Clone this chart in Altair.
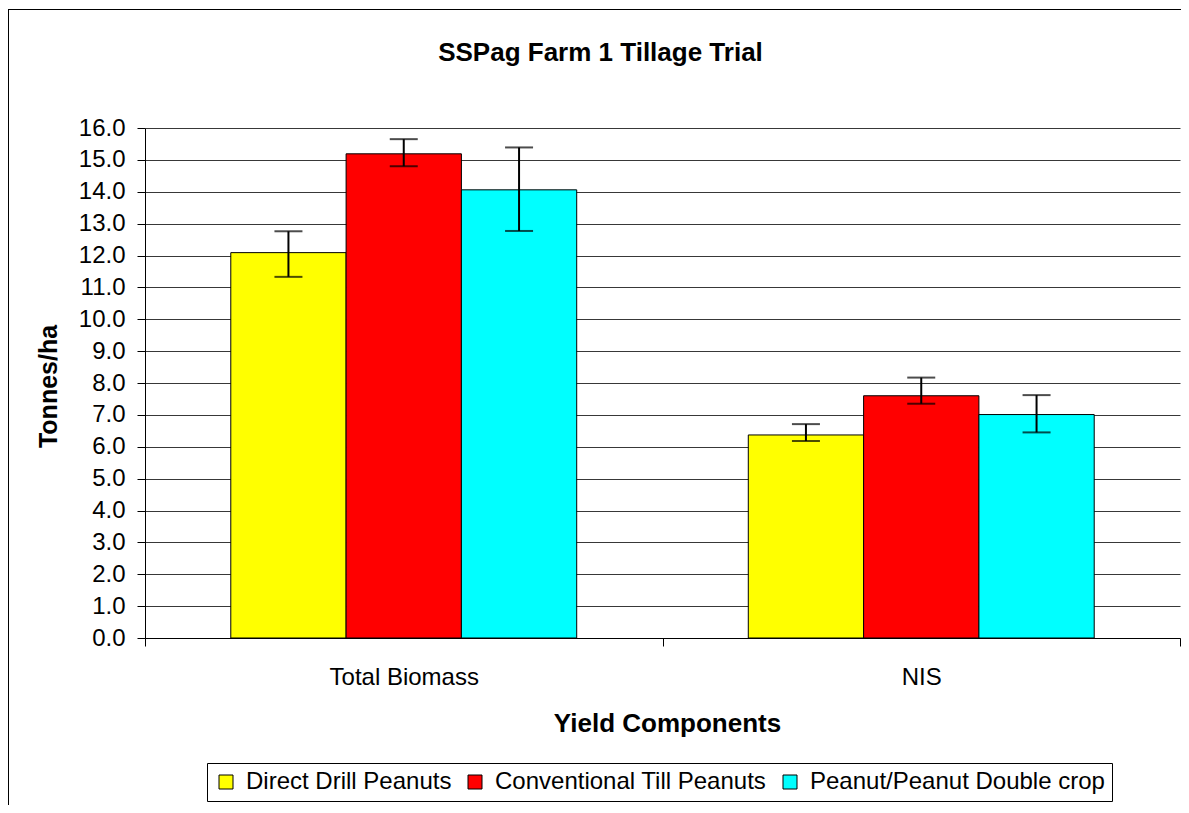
import altair as alt
import pandas as pd

components = ["Total Biomass", "NIS"]
series = ["Direct Drill Peanuts", "Conventional Till Peanuts", "Peanut/Peanut Double crop"]
colors = ["#FFFF00", "#FF0000", "#00FFFF"]

means_biomass = [12.09, 15.19, 14.06]
means_nis = [6.37, 7.60, 7.01]
low_biomass = [11.33, 14.80, 12.77]
low_nis = [6.18, 7.35, 6.45]
high_biomass = [12.76, 15.65, 15.39]
high_nis = [6.71, 8.17, 7.62]
y_ticks = [0, 1, 2, 3, 4, 5, 6, 7, 8, 9, 10, 11, 12, 13, 14, 15, 16]

rows = []
for comp, means, lows, highs in [
    ("Total Biomass", means_biomass, low_biomass, high_biomass),
    ("NIS", means_nis, low_nis, high_nis),
]:
    for s, m, lo, hi in zip(series, means, lows, highs):
        rows.append({"component": comp, "series": s, "value": m, "low": lo, "high": hi})
df = pd.DataFrame(rows)

FONT = "Liberation Sans"

x_axis = alt.Axis(
    labelAngle=0,
    labelFont=FONT,
    labelFontSize=24,
    labelColor="black",
    labelBaseline="alphabetic",
    labelPadding=38,
    tickBand="extent",
    tickSize=8,
    tickColor="black",
    domainColor="black",
    grid=False,
    title="Yield Components",
    titleFont=FONT,
    titleFontSize=26,
    titleFontWeight="bold",
    titleColor="black",
    titleBaseline="alphabetic",
    titleX=522,
    titleY=93,
)
y_axis = alt.Axis(
    values=y_ticks,
    format=".1f",
    labelOverlap=False,
    labelFont=FONT,
    labelFontSize=24,
    labelColor="black",
    labelPadding=12,
    tickSize=8,
    tickColor="black",
    domainColor="black",
    grid=True,
    gridColor="#383838",
    title="Tonnes/ha",
    titleFont=FONT,
    titleFontSize=25,
    titleFontWeight="bold",
    titleColor="black",
    titleAngle=270,
    titleBaseline="alphabetic",
    titleAlign="center",
    titleX=-89,
    titleY=258,
)
x_scale = alt.Scale(paddingInner=0, paddingOuter=0)
xoff_scale = alt.Scale(paddingInner=0, paddingOuter=0.744)
y_scale = alt.Scale(domain=[0, 16])


def xenc():
    return alt.X("component:N", sort=components, scale=x_scale, axis=x_axis, title="Yield Components")


def xoffenc():
    return alt.XOffset("series:N", sort=series, scale=xoff_scale)


bars = alt.Chart(df).mark_bar(stroke="black", strokeWidth=1).encode(
    x=xenc(),
    xOffset=xoffenc(),
    y=alt.Y("value:Q", scale=y_scale, axis=y_axis, title="Tonnes/ha"),
    color=alt.Color(
        "series:N",
        sort=series,
        scale=alt.Scale(domain=series, range=colors),
        legend=alt.Legend(
            title=None,
            orient="none",
            legendX=62,
            legendY=635,
            direction="horizontal",
            symbolType="square",
            symbolSize=196,
            symbolStrokeColor="black",
            symbolStrokeWidth=1,
            symbolOpacity=1,
            labelFont=FONT,
            labelFontSize=24,
            labelColor="black",
            labelLimit=500,
            labelOffset=8,
            columnPadding=11,
            padding=7,
            strokeColor="black",
            fillColor="white",
        ),
    ),
)

err = alt.Chart(df).mark_rule(color="black", strokeWidth=2).encode(
    x=xenc(),
    xOffset=xoffenc(),
    y=alt.Y("low:Q", scale=y_scale, axis=y_axis, title="Tonnes/ha"),
    y2="high:Q",
)
cap_lo = alt.Chart(df).mark_tick(color="black", thickness=2, size=28).encode(
    x=xenc(),
    xOffset=xoffenc(),
    y=alt.Y("low:Q", scale=y_scale, axis=y_axis, title="Tonnes/ha"),
)
cap_hi = alt.Chart(df).mark_tick(color="black", thickness=2, size=28).encode(
    x=xenc(),
    xOffset=xoffenc(),
    y=alt.Y("high:Q", scale=y_scale, axis=y_axis, title="Tonnes/ha"),
)

frame_data = alt.Data(values=[{"k": 1}])
frame_left = alt.Chart(frame_data).mark_rule(color="black", strokeWidth=1).encode(
    x=alt.value(-136.5), y=alt.value(-119), y2=alt.value(700)
)
frame_top = alt.Chart(frame_data).mark_rule(color="black", strokeWidth=1).encode(
    x=alt.value(-137), x2=alt.value(1050), y=alt.value(-118.5)
)

chart = (
    alt.layer(bars, err, cap_lo, cap_hi, frame_left, frame_top)
    .properties(
        width=1035,
        height=510,
        autosize=alt.AutoSizeParams(type="none"),
        padding={"left": 137, "top": 120, "right": 1, "bottom": 167},
        title=alt.Title(
            "SSPag Farm 1 Tillage Trial",
            font=FONT,
            fontSize=26,
            fontWeight="bold",
            color="black",
            anchor="middle",
            frame="group",
            baseline="alphabetic",
            offset=0,
            dx=-62,
            dy=78,
        ),
        background="white",
    )
    .configure_view(stroke="transparent")
)

chart.save("out.html", embed_options={"renderer": "svg", "actions": False})
